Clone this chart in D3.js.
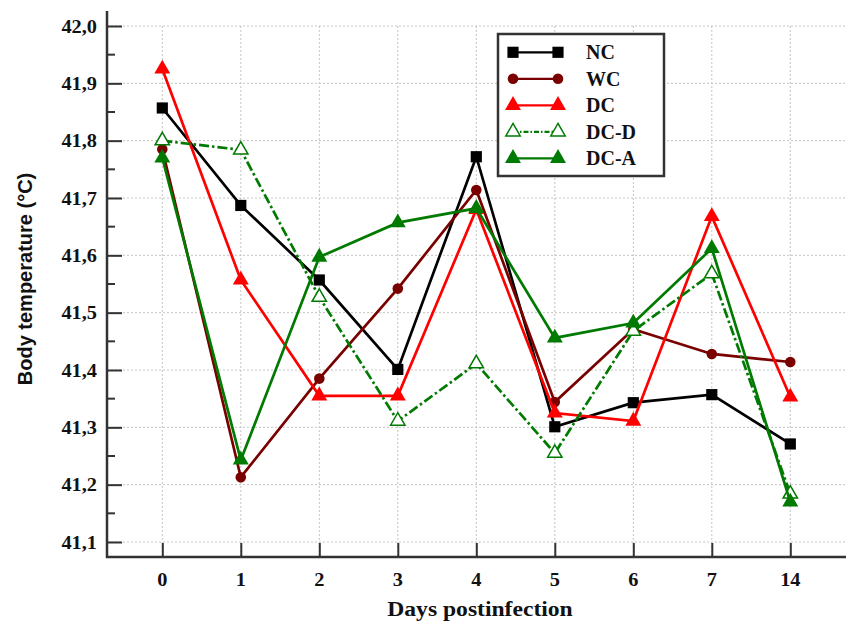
<!DOCTYPE html>
<html>
<head>
<meta charset="utf-8">
<script src="https://cdn.jsdelivr.net/npm/d3@7"></script>
<style>
  body { margin: 0; background: #fff; }
  svg { display: block; }
</style>
</head>
<body>
<div id="chart"></div>
<script>
// days postinfection (categorical axis)
const days = ["0", "1", "2", "3", "4", "5", "6", "7", "14"];
const yTicks = [41.1, 41.2, 41.3, 41.4, 41.5, 41.6, 41.7, 41.8, 41.9, 42.0];

// body temperature per group
const nc  = [41.857, 41.687, 41.557, 41.401, 41.772, 41.301, 41.343, 41.357, 41.271];
const wc  = [41.785, 41.213, 41.385, 41.542, 41.714, 41.344, 41.471, 41.428, 41.414];
const dc  = [41.925, 41.557, 41.355, 41.355, 41.680, 41.325, 41.311, 41.668, 41.353];
const dcD = [41.800, 41.784, 41.527, 41.311, 41.411, 41.255, 41.468, 41.568, 41.184];
const dcA = [41.770, 41.243, 41.597, 41.657, 41.682, 41.456, 41.482, 41.612, 41.170];

const series = [
  { name: "NC",   values: nc,  color: "#000000", symbol: d3.symbolSquare,   size: 125, fill: true,  dash: null },
  { name: "WC",   values: wc,  color: "#7a0000", symbol: d3.symbolCircle,   size: 88,  fill: true,  dash: null },
  { name: "DC",   values: dc,  color: "#ff0000", symbol: d3.symbolTriangle, size: 110, fill: true,  dash: null },
  { name: "DC-D", values: dcD, color: "#007a00", symbol: d3.symbolTriangle, size: 90,  fill: false, dash: "10,3,2.5,3" },
  { name: "DC-A", values: dcA, color: "#007a00", symbol: d3.symbolTriangle, size: 110, fill: true,  dash: null }
];

const serif = "'Liberation Serif', 'Times New Roman', serif";
const width = 846, height = 624;
const plotLeft = 107, plotRight = 846, plotTop = 11, plotBottom = 557;

const svg = d3.select("#chart").append("svg")
  .attr("width", width)
  .attr("height", height);

const x = d3.scalePoint()
  .domain(days)
  .range([162.3, 790.3]);

const y = d3.scaleLinear()
  .domain([41.1, 42.0])
  .range([542, 26]);

// grid
const grid = svg.append("g").attr("class", "grid");
grid.selectAll("line.h").data(yTicks).join("line")
  .attr("class", "h")
  .attr("x1", plotLeft).attr("x2", plotRight)
  .attr("y1", d => y(d)).attr("y2", d => y(d))
  .attr("stroke", "#c4c4c4").attr("stroke-width", 1).attr("stroke-dasharray", "2,2");
grid.selectAll("line.v").data(days).join("line")
  .attr("class", "v")
  .attr("x1", d => x(d)).attr("x2", d => x(d))
  .attr("y1", y(42.0)).attr("y2", plotBottom)
  .attr("stroke", "#c4c4c4").attr("stroke-width", 1).attr("stroke-dasharray", "2,2");

// y axis (ticks point inward)
const yAxis = d3.axisRight(y)
  .tickValues(yTicks)
  .tickSize(15)
  .tickFormat(() => "");
const gy = svg.append("g")
  .attr("transform", `translate(${plotLeft},0)`)
  .call(yAxis);
gy.select(".domain").remove();
gy.selectAll(".tick line").attr("stroke", "#333").attr("stroke-width", 2);

const minor = d3.range(41.15, 42.0, 0.1);
svg.append("g").selectAll("line").data(minor).join("line")
  .attr("x1", plotLeft).attr("x2", plotLeft + 8)
  .attr("y1", d => y(d)).attr("y2", d => y(d))
  .attr("stroke", "#333").attr("stroke-width", 2);

svg.append("g").selectAll("text").data(yTicks).join("text")
  .attr("transform", d => `translate(97,${y(d) + 6.5}) scale(1.1,1)`)
  .attr("text-anchor", "end")
  .style("font-family", serif)
  .style("font-weight", "bold")
  .style("font-size", "18.5px")
  .attr("fill", "#111")
  .text(d => d3.format(".1f")(d).replace(".", ","));

// x axis (ticks point inward)
const xAxis = d3.axisTop(x)
  .tickSize(14)
  .tickFormat(() => "");
const gx = svg.append("g")
  .attr("transform", `translate(0,${plotBottom})`)
  .call(xAxis);
gx.select(".domain").remove();
gx.selectAll(".tick line").attr("stroke", "#333").attr("stroke-width", 2);

svg.append("g").selectAll("text").data(days).join("text")
  .attr("transform", d => `translate(${x(d)},586) scale(1.1,1)`)
  .attr("text-anchor", "middle")
  .style("font-family", serif)
  .style("font-weight", "bold")
  .style("font-size", "18.5px")
  .attr("fill", "#111")
  .text(d => d);

// axis lines
svg.append("line")
  .attr("x1", plotLeft).attr("x2", plotLeft).attr("y1", plotTop).attr("y2", plotBottom + 1)
  .attr("stroke", "#333").attr("stroke-width", 2.5);
svg.append("line")
  .attr("x1", plotLeft - 1).attr("x2", plotRight).attr("y1", plotBottom).attr("y2", plotBottom)
  .attr("stroke", "#333").attr("stroke-width", 2.5);

// titles
svg.append("text")
  .attr("transform", "translate(480,616) scale(1.18,1)")
  .attr("text-anchor", "middle")
  .style("font-family", serif)
  .style("font-weight", "bold")
  .style("font-size", "20px")
  .attr("fill", "#111")
  .text("Days postinfection");

svg.append("text")
  .attr("transform", "translate(32,279) rotate(-90)")
  .attr("text-anchor", "middle")
  .style("font-family", "'Liberation Sans', Arial, sans-serif")
  .style("font-weight", "bold")
  .style("font-size", "20px")
  .attr("fill", "#111")
  .text("Body temperature (°C)");

// series
const line = d3.line()
  .x((d, i) => x(days[i]))
  .y(d => y(d));

series.forEach(s => {
  const g = svg.append("g");
  g.append("path")
    .datum(s.values)
    .attr("d", line)
    .attr("fill", "none")
    .attr("stroke", s.color)
    .attr("stroke-width", 2.7)
    .attr("stroke-dasharray", s.dash);
  g.selectAll("path.pt").data(s.values).join("path")
    .attr("class", "pt")
    .attr("transform", (d, i) => `translate(${x(days[i])},${y(d)})`)
    .attr("d", d3.symbol().type(s.symbol).size(s.size))
    .attr("fill", s.fill ? s.color : "#fff")
    .attr("stroke", s.color)
    .attr("stroke-width", s.fill ? 0 : 1.5);
});

// legend
const legend = svg.append("g");
legend.append("rect")
  .attr("x", 498).attr("y", 34)
  .attr("width", 166).attr("height", 142)
  .attr("fill", "#fff")
  .attr("stroke", "#333")
  .attr("stroke-width", 2.5);

const rows = legend.selectAll("g.row").data(series).join("g")
  .attr("class", "row")
  .attr("transform", (d, i) => `translate(0,${52.3 + i * 26.5})`);
rows.append("line")
  .attr("x1", 513).attr("x2", 558)
  .attr("stroke", d => d.color)
  .attr("stroke-width", 2.2)
  .attr("stroke-dasharray", d => d.dash ? "5,2,1.5,2" : null);
[513, 558].forEach(px => {
  rows.append("path")
    .attr("transform", `translate(${px},0)`)
    .attr("d", d => d3.symbol().type(d.symbol).size(d.size)())
    .attr("fill", d => d.fill ? d.color : "#fff")
    .attr("stroke", d => d.color)
    .attr("stroke-width", d => d.fill ? 0 : 1.5);
});
rows.append("text")
  .attr("x", 586).attr("y", 7)
  .style("font-family", serif)
  .style("font-weight", "bold")
  .style("font-size", "20px")
  .attr("fill", "#111")
  .text(d => d.name);
</script>
</body>
</html>
